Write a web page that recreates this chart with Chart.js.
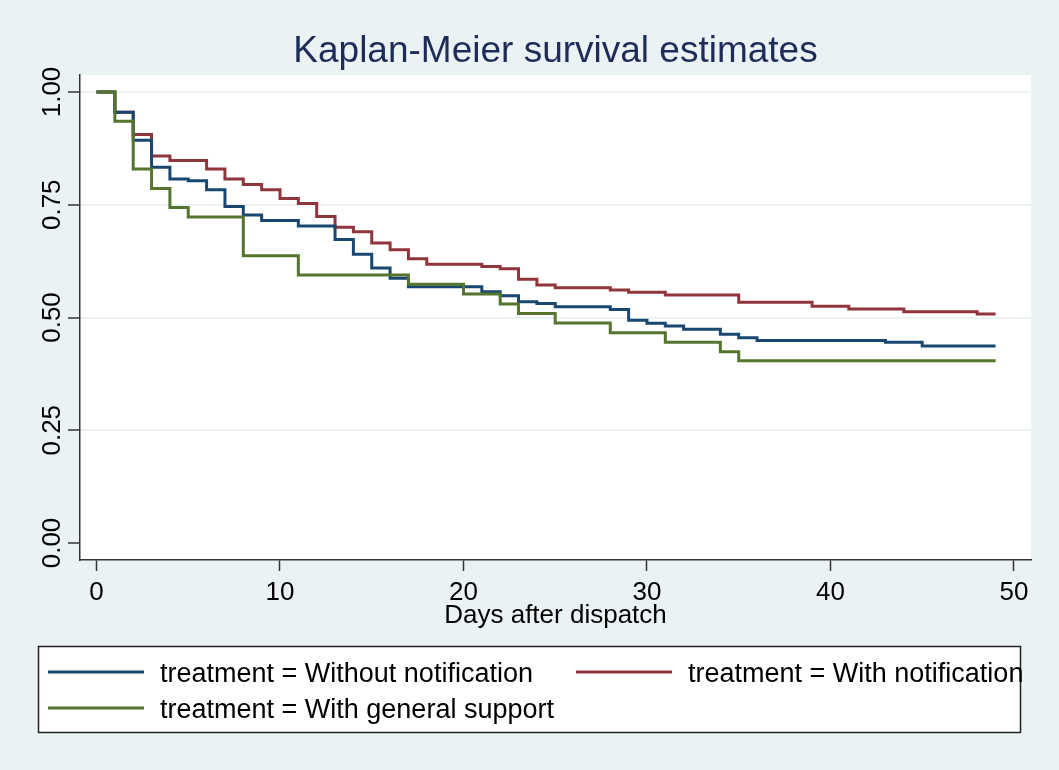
<!DOCTYPE html>
<html>
<head>
<meta charset="utf-8">
<script src="https://cdn.jsdelivr.net/npm/chart.js@4.4.1/dist/chart.umd.min.js"></script>
<style>
   html, body { margin: 0; padding: 0; background: #eaf2f3; }
</style>
</head>
<body>
<canvas id="km" width="1059" height="770"></canvas>
<script>
const titleText = 'Kaplan-Meier survival estimates'
const xTitle = 'Days after dispatch'
const xTicks = [0, 10, 20, 30, 40, 50]
const yTicks = [0, 0.25, 0.5, 0.75, 1]
const yTickLabels = ['0.00', '0.25', '0.50', '0.75', '1.00']
const seriesNames = [
   'treatment = Without notification',
   'treatment = With notification',
   'treatment = With general support'
]

// step points: day of the drop, survival after the drop
const timeWithout = [0, 1, 2, 3, 4, 5, 6, 7, 8, 9, 11, 13, 14, 15, 16, 17, 21, 22, 23, 24, 25, 28, 29, 30, 31, 32, 34, 35, 36, 43, 45, 49]
const survWithout = [1, 0.955, 0.893, 0.833, 0.807, 0.803, 0.783, 0.746, 0.727, 0.715, 0.703, 0.673, 0.640, 0.610, 0.587, 0.568, 0.557, 0.548, 0.535, 0.531, 0.524, 0.518, 0.494, 0.487, 0.481, 0.474, 0.463, 0.455, 0.449, 0.445, 0.437, 0.437]

const timeWith = [0, 1, 2, 3, 4, 6, 7, 8, 9, 10, 11, 12, 13, 14, 15, 16, 17, 18, 21, 22, 23, 24, 25, 28, 29, 31, 35, 39, 41, 44, 48, 49]
const survWith = [1, 0.955, 0.906, 0.858, 0.848, 0.829, 0.807, 0.795, 0.783, 0.764, 0.753, 0.724, 0.700, 0.690, 0.665, 0.650, 0.630, 0.618, 0.613, 0.608, 0.585, 0.572, 0.566, 0.561, 0.556, 0.550, 0.534, 0.525, 0.519, 0.513, 0.508, 0.508]

const timeSupport = [0, 1, 2, 3, 4, 5, 8, 11, 17, 20, 22, 23, 25, 28, 31, 34, 35, 49]
const survSupport = [1, 0.935, 0.829, 0.786, 0.744, 0.723, 0.637, 0.594, 0.574, 0.552, 0.530, 0.509, 0.488, 0.466, 0.445, 0.424, 0.404, 0.404]

const colors = ['#1a476f', '#90353b', '#55752f']
const bg = '#eaf2f3'
const font = "'Liberation Sans', Arial, sans-serif"

const toPoints = (t, s) => t.map((x, i) => ({ x, y: s[i] }))

const stataLook = {
   id: 'stataLook',
   beforeDraw(chart) {
      const { ctx, chartArea: a } = chart
      ctx.save()
      ctx.fillStyle = bg
      ctx.fillRect(0, 0, chart.width, chart.height)
      ctx.fillStyle = '#fff'
      ctx.fillRect(a.left, a.top, a.right - a.left, a.bottom - a.top)
      ctx.restore()
   },
   afterDraw(chart) {
      const { ctx, chartArea: a } = chart
      const y = chart.scales.y
      ctx.save()

      // title
      ctx.fillStyle = '#1e2c5a'
      ctx.font = '37px ' + font
      ctx.textAlign = 'center'
      ctx.textBaseline = 'alphabetic'
      ctx.fillText(titleText, (a.left + a.right) / 2, 62)

      // rotated y tick labels
      ctx.fillStyle = '#000'
      ctx.font = '26px ' + font
      yTicks.forEach((v, i) => {
         ctx.save()
         ctx.translate(60, y.getPixelForValue(v))
         ctx.rotate(-Math.PI / 2)
         ctx.textAlign = 'center'
         ctx.fillText(yTickLabels[i], 0, 0)
         ctx.restore()
      })

      // legend box
      ctx.fillStyle = '#fff'
      ctx.fillRect(38.5, 646.5, 982, 86)
      ctx.strokeStyle = '#222'
      ctx.lineWidth = 1.5
      ctx.strokeRect(38.5, 646.5, 982, 86)
      const slots = [[48, 672], [576, 672], [48, 708]]
      ctx.font = '27px ' + font
      ctx.textAlign = 'left'
      slots.forEach(([lx, ly], i) => {
         ctx.strokeStyle = colors[i]
         ctx.lineWidth = 3
         ctx.beginPath()
         ctx.moveTo(lx, ly)
         ctx.lineTo(lx + 96, ly)
         ctx.stroke()
         ctx.fillStyle = '#000'
         ctx.fillText(seriesNames[i], lx + 112, ly + 10)
      })
      ctx.restore()
   }
}

const line = (label, data, color, order) => ({
   label,
   data,
   borderColor: color,
   backgroundColor: color,
   borderWidth: 3,
   pointRadius: 0,
   stepped: true,
   fill: false,
   order
})

new Chart(document.getElementById('km'), {
   type: 'line',
   data: {
      datasets: [
         line(seriesNames[0], toPoints(timeWithout, survWithout), colors[0], 1),
         line(seriesNames[1], toPoints(timeWith, survWith), colors[1], 2),
         line(seriesNames[2], toPoints(timeSupport, survSupport), colors[2], 0)
      ]
   },
   options: {
      responsive: false,
      animation: false,
      layout: { padding: { top: 75, right: 28, bottom: 130, left: 0 } },
      plugins: {
         legend: { display: false },
         title: { display: false },
         tooltip: { enabled: false }
      },
      scales: {
         x: {
            type: 'linear',
            min: -0.9,
            max: 50.93,
            afterBuildTicks: s => { s.ticks = xTicks.map(v => ({ value: v })) },
            afterFit: s => { s.height = 80 },
            grid: { drawOnChartArea: false, drawTicks: true, tickLength: 11, tickColor: '#333', tickWidth: 1.5 },
            border: { display: true, color: '#333', width: 1.5 },
            ticks: { color: '#000', padding: 6, maxRotation: 0, font: { family: font, size: 26 } },
            title: {
               display: true,
               text: xTitle,
               color: '#000',
               padding: { top: 0, bottom: 9 },
               font: { family: font, size: 26 }
            }
         },
         y: {
            type: 'linear',
            min: -0.0377,
            max: 1.0377,
            afterBuildTicks: s => { s.ticks = yTicks.map(v => ({ value: v })) },
            afterFit: s => { s.width = 80 },
            grid: {
               color: c => c.tick && c.tick.value === 0 ? 'rgba(0,0,0,0)' : bg,
               lineWidth: 2,
               drawTicks: true,
               tickLength: 12,
               tickColor: '#333',
               tickWidth: 1.5
            },
            border: { display: true, color: '#333', width: 1.5 },
            ticks: { display: false }
         }
      }
   },
   plugins: [stataLook]
})
</script>
</body>
</html>
